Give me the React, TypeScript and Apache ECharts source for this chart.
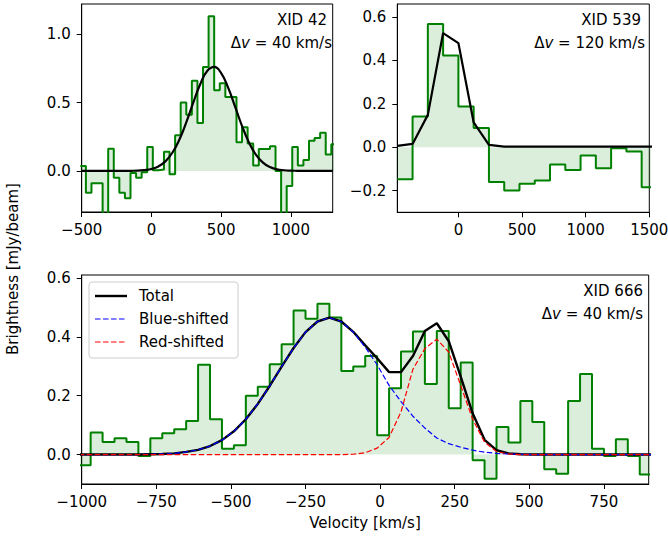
import { useEffect, useRef } from 'react';
import * as echarts from 'echarts';

const FONT = '"DejaVu Sans", "Noto Sans", sans-serif';

// ---------- XID 42 (Δv = 40 km/s) ----------
const XID42_DV = 40;
const XID42_FIRST_EDGE = -510;
const XID42_FLUX = [
  0.037, -0.16, -0.09, -0.09, -0.45, 0.163, -0.05, -0.16, -0.2, -0.015,
  -0.05, -0.01, 0.175, 0.005, 0.01, 0.14, -0.025, 0.26, 0.5, 0.41,
  0.66, 0.35, 0.76, 1.13, 0.59, 0.64, 0.54, 0.54, 0.21, 0.32,
  0.2, 0.04, 0.16, 0.16, 0.18, 0.0, -0.45, -0.11, 0.175, 0.04,
  0.08, 0.22, 0.24, 0.28, 0.12, 0.195,
];
const XID42_FIT_V = [
  -500, -450, -400, -350, -300, -250, -200, -150, -100, -50, 0, 50, 100, 150, 200, 250, 300, 350, 400,
  450, 500, 550, 600, 650, 700, 750, 800, 850, 900, 950, 1000, 1050, 1100, 1150, 1200, 1250, 1300,
];
const XID42_FIT = [
  0, 0, 0, 0, 0, 0, 0, 0.001, 0.002, 0.006, 0.014, 0.033, 0.07, 0.133, 0.228, 0.355, 0.499, 0.634, 0.73,
  0.76, 0.715, 0.609, 0.47, 0.328, 0.207, 0.118, 0.061, 0.028, 0.012, 0.005, 0.002, 0.001, 0, 0, 0, 0, 0,
];
const XID42_XTICKS = [-500, 0, 500, 1000];
const XID42_YTICKS = [0, 0.5, 1.0];

// ---------- XID 539 (Δv = 120 km/s) ----------
const XID539_DV = 120;
const XID539_FIRST_EDGE = -480;
const XID539_FLUX = [
  -0.148, 0.142, 0.568, 0.423, 0.188, 0.088, -0.16, -0.2, -0.168, -0.154,
  -0.08, -0.105, -0.038, -0.097, -0.005, -0.02, -0.185,
];
const XID539_FIT = [
  0.006, 0.015, 0.149, 0.526, 0.48, 0.114, 0.011, 0.003, 0.003, 0.003,
  0.003, 0.003, 0.003, 0.003, 0.003, 0.003, 0.003, 0.003,
];
const XID539_XTICKS = [0, 500, 1000, 1500];
const XID539_YTICKS = [-0.2, 0, 0.2, 0.4, 0.6];

// ---------- XID 666 (Δv = 40 km/s) ----------
const XID666_DV = 40;
const XID666_FIRST_EDGE = -1010;
const XID666_FLUX = [
  -0.036, 0.075, 0.043, 0.055, 0.043, -0.005, 0.055, 0.072, 0.086, 0.114,
  0.305, 0.12, 0.02, 0.032, 0.2, 0.23, 0.307, 0.375, 0.489, 0.461,
  0.512, 0.466, 0.284, 0.299, 0.335, 0.066, 0.225, 0.35, 0.418, 0.24,
  0.42, 0.157, 0.3125, -0.019, -0.082, 0.094, 0.041, 0.182, 0.111, -0.05,
  -0.065, 0.182, 0.274, 0.02, -0.005, 0.052, -0.005, -0.068,
];
// model curves sampled at the bin edges (-1010 ... 910)
const XID666_TOTAL = [
  0, 0, 0, 0, 0, 0, 0.001, 0.002, 0.004, 0.009,
  0.016, 0.029, 0.049, 0.079, 0.12, 0.172, 0.233, 0.299, 0.362, 0.416,
  0.452, 0.465, 0.452, 0.417, 0.371, 0.327, 0.28, 0.28, 0.335, 0.42,
  0.446, 0.385, 0.265, 0.14, 0.05, 0.015, 0.004, 0.001, 0, 0,
  0, 0, 0, 0, 0, 0, 0, 0, 0,
];
const XID666_BLUE = [
  0, 0, 0, 0, 0, 0, 0.001, 0.002, 0.004, 0.009,
  0.016, 0.029, 0.049, 0.079, 0.12, 0.172, 0.233, 0.299, 0.362, 0.416,
  0.452, 0.465, 0.452, 0.416, 0.365, 0.305, 0.235, 0.18, 0.13, 0.09,
  0.056, 0.037, 0.025, 0.015, 0.008, 0.004, 0.002, 0.001, 0, 0,
  0, 0, 0, 0, 0, 0, 0, 0, 0,
];
const XID666_RED = [
  0, 0, 0, 0, 0, 0, 0, 0, 0, 0,
  0, 0, 0, 0, 0, 0, 0, 0, 0, 0,
  0, 0, 0, 0.001, 0.006, 0.022, 0.058, 0.145, 0.29, 0.36,
  0.392, 0.348, 0.235, 0.12, 0.042, 0.01, 0.002, 0, 0, 0,
  0, 0, 0, 0, 0, 0, 0, 0, 0,
];
const XID666_XTICKS = [-1000, -750, -500, -250, 0, 250, 500, 750];
const XID666_YTICKS = [0, 0.2, 0.4, 0.6];

const LEGEND_LABELS = ['Total', 'Blue-shifted', 'Red-shifted'];

// ---------- helpers ----------
const stepData = (first: number, dv: number, vals: number[]) => {
  const pts = vals.map((v, i) => [first + i * dv, v]);
  pts.push([first + vals.length * dv, vals[vals.length - 1]]);
  return pts;
};
const edgeData = (first: number, dv: number, vals: number[]) => vals.map((v, i) => [first + i * dv, v]);
const pairData = (xs: number[], ys: number[]) => xs.map((x, i) => [x, ys[i]]);

const fmt = (d: number) => (v: number) => {
  const a = Math.abs(v) < 1e-9 ? 0 : v;
  return (a < 0 ? '\u2212' : '') + Math.abs(a).toFixed(d);
};

const labelStyle = { color: '#000', fontSize: 15, fontFamily: FONT };

const xAxis = (idx: number, min: number, max: number, ticks: number[]) => ({
  type: 'value',
  gridIndex: idx,
  min,
  max,
  axisLine: { show: true, onZero: false, lineStyle: { color: '#000', width: 1 } },
  axisTick: { show: true, length: 5, inside: false, customValues: ticks, lineStyle: { color: '#000', width: 1 } },
  axisLabel: { ...labelStyle, customValues: ticks, formatter: fmt(0), margin: 10, hideOverlap: false },
  splitLine: { show: false },
});
const yAxis = (idx: number, min: number, max: number, ticks: number[]) => ({
  type: 'value',
  gridIndex: idx,
  min,
  max,
  axisLine: { show: true, onZero: false, lineStyle: { color: '#000', width: 1 } },
  axisTick: { show: true, length: 5, inside: false, customValues: ticks, lineStyle: { color: '#000', width: 1 } },
  axisLabel: { ...labelStyle, customValues: ticks, formatter: fmt(1), margin: 11, hideOverlap: false },
  splitLine: { show: false },
});

const stepSeries = (idx: number, data: number[][]) => ({
  type: 'line',
  xAxisIndex: idx,
  yAxisIndex: idx,
  data,
  step: 'end',
  symbol: 'none',
  showSymbol: false,
  clip: true,
  silent: true,
  z: 2,
  lineStyle: { color: '#008000', width: 2 },
  areaStyle: { color: 'rgba(0,128,0,0.2)', origin: 'auto' },
});
const curveSeries = (idx: number, data: number[][], color: string, width: number, dashed: boolean, z: number, smooth = false) => ({
  type: 'line',
  xAxisIndex: idx,
  yAxisIndex: idx,
  data,
  symbol: 'none',
  showSymbol: false,
  clip: true,
  silent: true,
  smooth,
  z,
  lineStyle: { color, width, type: dashed ? [5.5, 2.5] : 'solid' },
});

const deltaText = (x: number, y: number, dv: number) => ({
  type: 'text',
  x,
  y,
  z: 100,
  style: {
    text: `{n|\u0394}{i|v}{n| = ${dv} km/s}`,
    align: 'right',
    verticalAlign: 'middle',
    fill: '#000',
    fontSize: 15,
    fontFamily: FONT,
    rich: {
      n: { fontSize: 15, fontFamily: FONT, fill: '#000' },
      i: { fontSize: 15, fontFamily: FONT, fontStyle: 'italic', fill: '#000' },
    },
  },
});
const plainText = (x: number, y: number, text: string, align = 'right', extra: any = {}) => ({
  type: 'text',
  x,
  y,
  z: 100,
  ...extra,
  style: { text, align, verticalAlign: 'middle', fill: '#000', fontSize: 15, fontFamily: FONT },
});

export default function App() {
  const ref = useRef<HTMLDivElement>(null);
  useEffect(() => {
    document.body.style.margin = '0';
    if (!ref.current) return;
    const chart = echarts.init(ref.current, null, { renderer: 'svg' });

    const gridBase = {
      show: true,
      borderColor: '#000',
      borderWidth: 1,
      backgroundColor: 'rgba(0,0,0,0)',
      containLabel: false,
      outerBoundsMode: 'none',
    };

    const option: any = {
      animation: false,
      backgroundColor: '#fff',
      textStyle: { fontFamily: FONT },
      grid: [
        { ...gridBase, left: 81.7, top: 4, width: 251, height: 208 },
        { ...gridBase, left: 397.3, top: 4, width: 252, height: 208.3 },
        { ...gridBase, left: 81.7, top: 275, width: 567, height: 209 },
      ],
      xAxis: [
        xAxis(0, -500, 1300, XID42_XTICKS),
        xAxis(1, -480, 1500, XID539_XTICKS),
        xAxis(2, -1000, 900, XID666_XTICKS),
      ],
      yAxis: [
        yAxis(0, -0.3, 1.22, XID42_YTICKS),
        yAxis(1, -0.3, 0.66, XID539_YTICKS),
        yAxis(2, -0.1, 0.61, XID666_YTICKS),
      ],
      series: [
        stepSeries(0, stepData(XID42_FIRST_EDGE, XID42_DV, XID42_FLUX)),
        curveSeries(0, pairData(XID42_FIT_V, XID42_FIT), '#000', 2.2, false, 3, true),
        stepSeries(1, stepData(XID539_FIRST_EDGE, XID539_DV, XID539_FLUX)),
        curveSeries(1, edgeData(XID539_FIRST_EDGE, XID539_DV, XID539_FIT), '#000', 2.2, false, 3),
        stepSeries(2, stepData(XID666_FIRST_EDGE, XID666_DV, XID666_FLUX)),
        curveSeries(2, edgeData(XID666_FIRST_EDGE, XID666_DV, XID666_TOTAL), '#000', 2.4, false, 3),
        curveSeries(2, edgeData(XID666_FIRST_EDGE, XID666_DV, XID666_BLUE), '#0000ff', 1.2, true, 4),
        curveSeries(2, edgeData(XID666_FIRST_EDGE, XID666_DV, XID666_RED), '#ff0000', 1.2, true, 5),
      ],
      graphic: [
        plainText(327, 20, 'XID 42'),
        deltaText(332, 43, XID42_DV),
        plainText(641, 20, 'XID 539'),
        deltaText(645, 43, XID539_DV),
        plainText(643, 290.5, 'XID 666'),
        deltaText(643, 314, XID666_DV),
        plainText(13, 269, 'Brightness [mJy/beam]', 'center', { rotation: Math.PI / 2 }),
        plainText(365, 523, 'Velocity [km/s]', 'center'),
        {
          type: 'group',
          z: 100,
          children: [
            {
              type: 'rect',
              shape: { x: 89, y: 282, width: 149, height: 76, r: 3 },
              style: { fill: 'rgba(255,255,255,0.8)', stroke: '#cccccc', lineWidth: 1 },
            },
            { type: 'line', shape: { x1: 95, y1: 296, x2: 127, y2: 296 }, style: { stroke: '#000', lineWidth: 2.4 } },
            { type: 'line', shape: { x1: 95, y1: 319, x2: 127, y2: 319 }, style: { stroke: '#0000ff', lineWidth: 1.2, lineDash: [5.5, 2.5] } },
            { type: 'line', shape: { x1: 95, y1: 342, x2: 127, y2: 342 }, style: { stroke: '#ff0000', lineWidth: 1.2, lineDash: [5.5, 2.5] } },
            plainText(139, 296, LEGEND_LABELS[0], 'left'),
            plainText(139, 319, LEGEND_LABELS[1], 'left'),
            plainText(139, 342, LEGEND_LABELS[2], 'left'),
          ],
        },
      ],
    };
    chart.setOption(option);
    return () => chart.dispose();
  }, []);
  return <div ref={ref} style={{ width: 668, height: 536, position: 'absolute', left: 0, top: 0 }} />;
}
